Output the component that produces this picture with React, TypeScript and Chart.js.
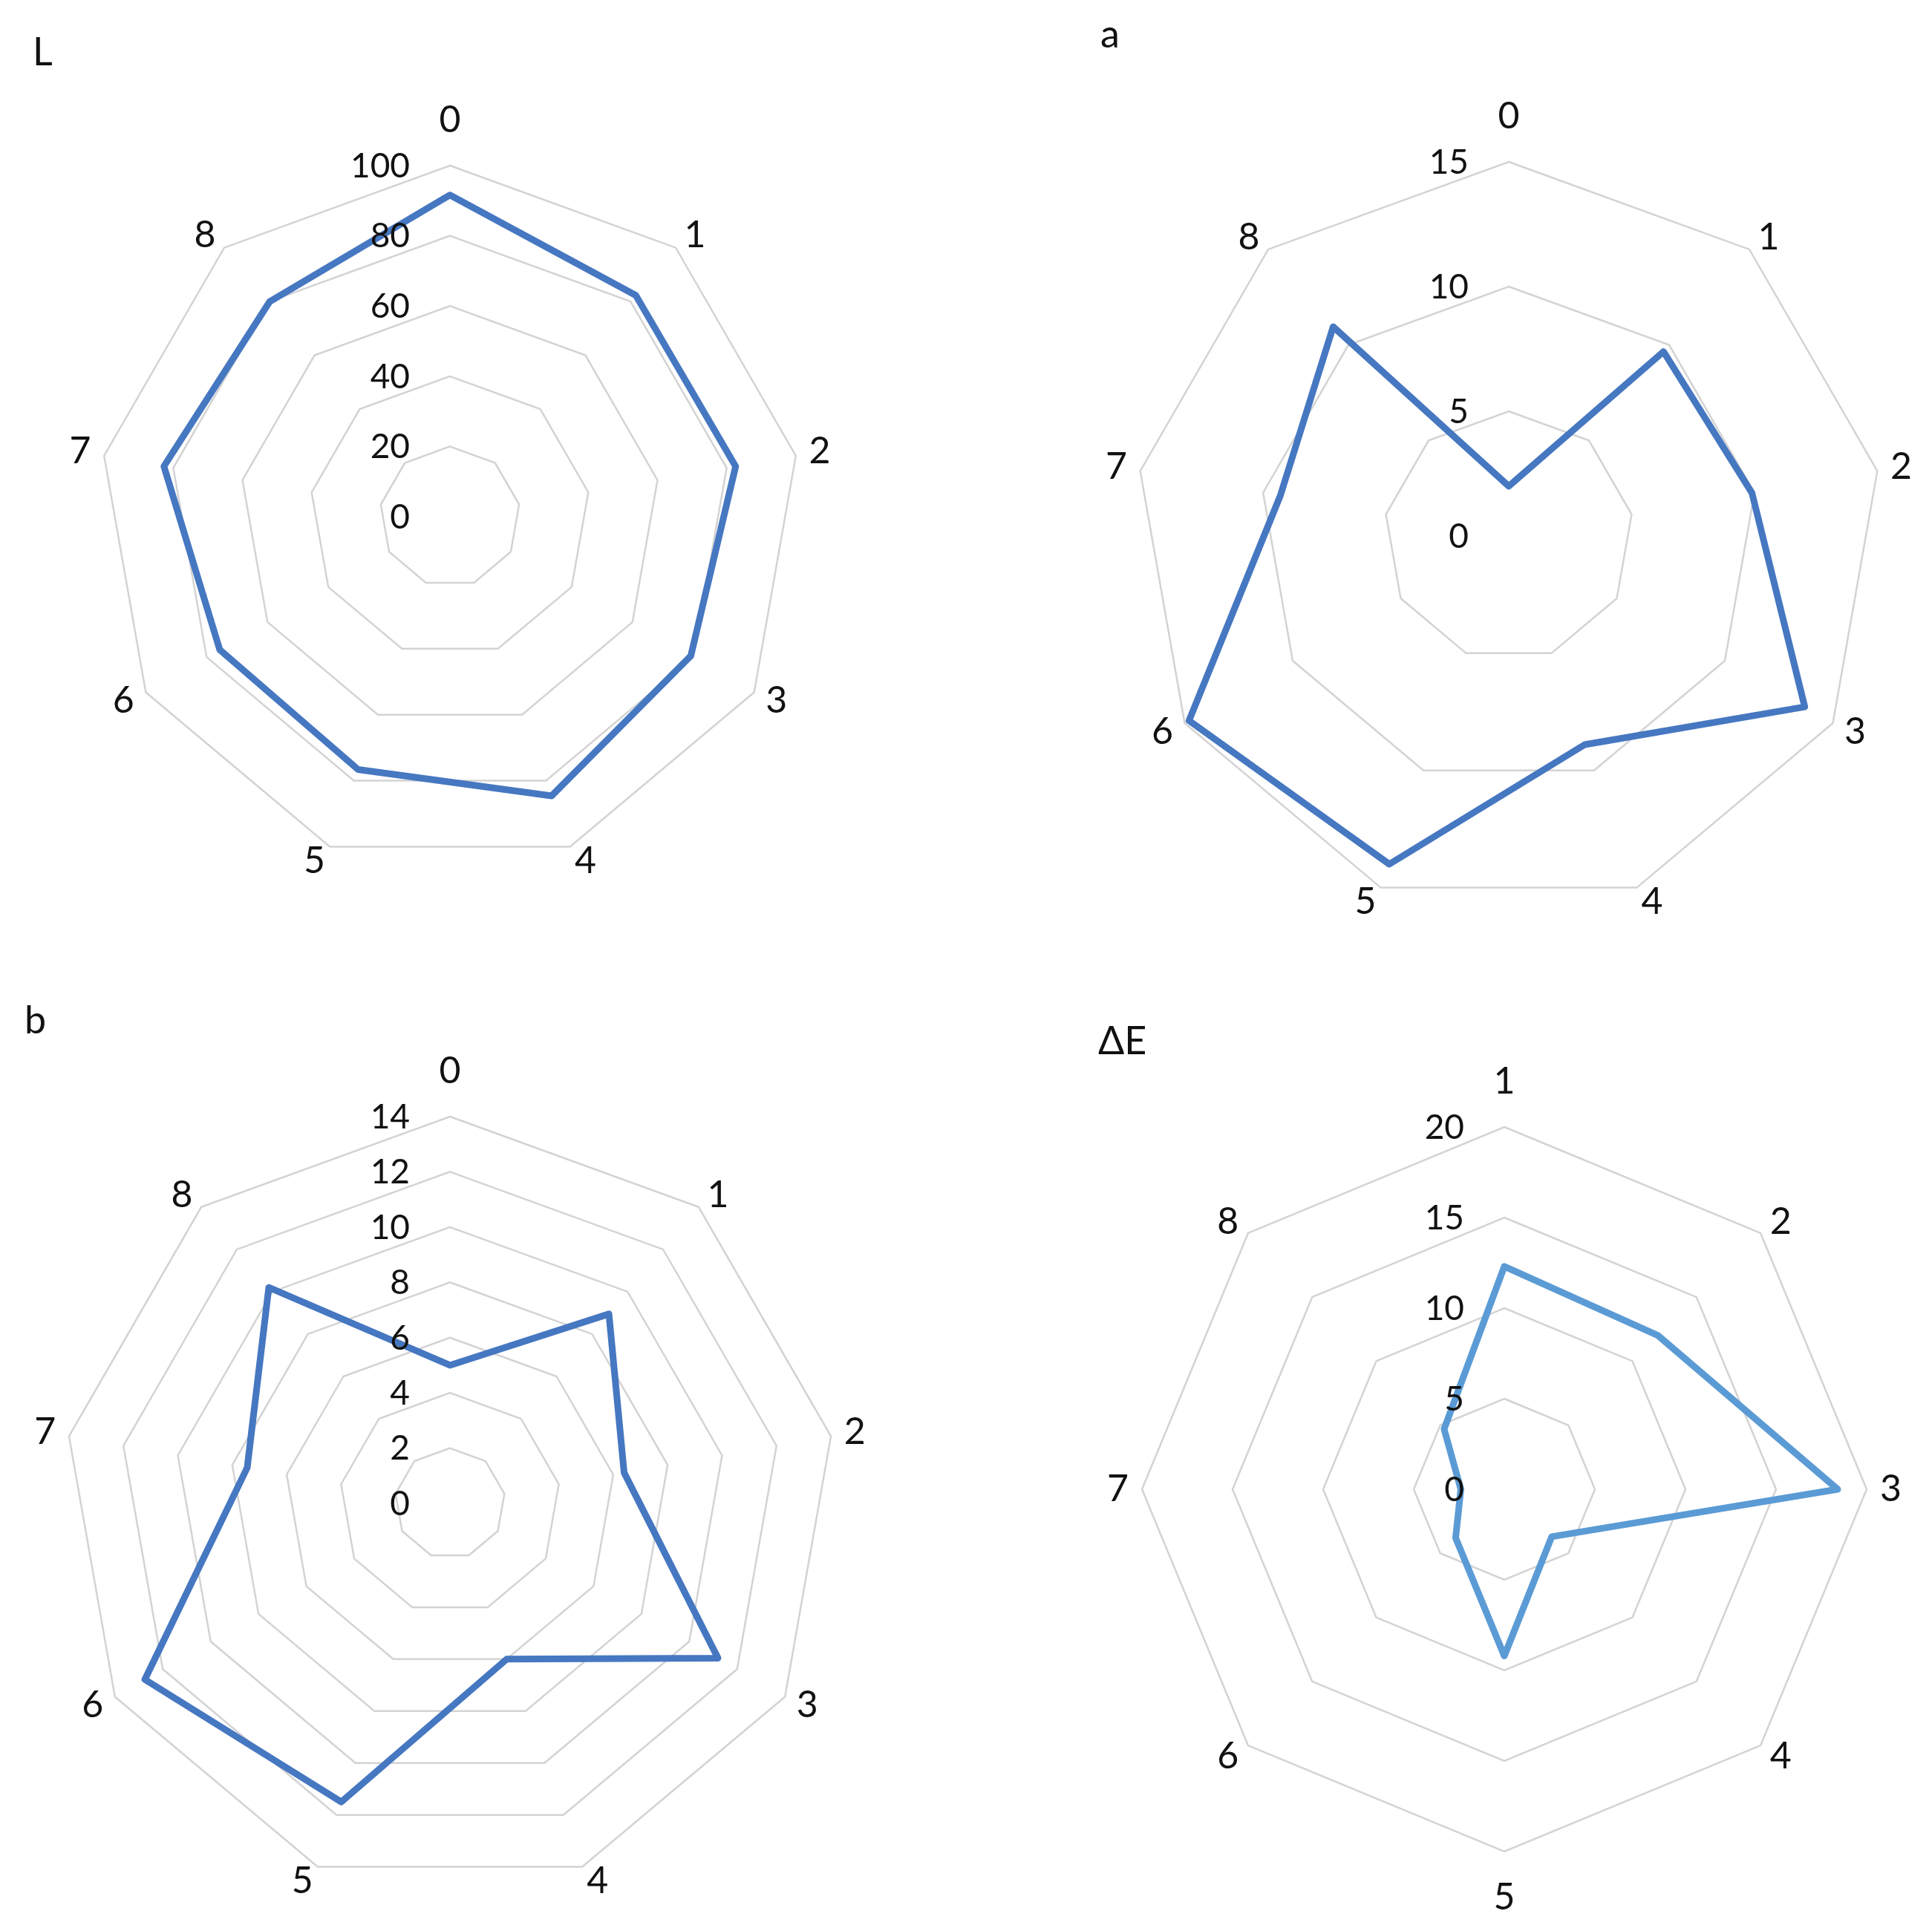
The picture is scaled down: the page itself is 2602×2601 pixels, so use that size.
import React, { useEffect, useRef } from 'react';
import { Chart, registerables } from 'chart.js';

Chart.register(...registerables);

// ---------------- data ----------------
const L_CATEGORIES = ['0', '1', '2', '3', '4', '5', '6', '7', '8'];
const L_VALUES = [91.6, 82.3, 82.6, 79.2, 84.6, 76.6, 75.7, 82.7, 79.9];
const L_MAX = 100;
const L_STEP = 20;

const A_CATEGORIES = ['0', '1', '2', '3', '4', '5', '6', '7', '8'];
const A_VALUES = [2.0, 9.65, 9.9, 13.7, 8.9, 14.0, 14.8, 9.3, 10.95];
const A_MAX = 15;
const A_STEP = 5;

const B_CATEGORIES = ['0', '1', '2', '3', '4', '5', '6', '7', '8'];
const B_VALUES = [5.0, 8.95, 6.4, 11.2, 6.0, 11.5, 12.75, 7.45, 10.2];
const B_MAX = 14;
const B_STEP = 2;

const DE_CATEGORIES = ['1', '2', '3', '4', '5', '6', '7', '8'];
const DE_VALUES = [12.3, 12.0, 18.4, 3.7, 9.2, 3.8, 2.4, 4.7];
const DE_MAX = 20;
const DE_STEP = 5;

// ---------------- styles ----------------
const FONT = 'Lato, "Open Sans", "DejaVu Sans", sans-serif';
const DARK_BLUE = '#4677C1';
const LIGHT_BLUE = '#5B9BD5';
const GRID = '#d3d3d3';
const TEXT = '#111111';

// tick labels drawn Excel-style: right aligned to the left of the vertical axis, incl. 0
const excelTickLabels = {
  id: 'excelTickLabels',
  afterDatasetsDraw(chart: any, _args: any, opts: any) {
    const scale = chart.scales.r;
    if (!scale) return;
    const ctx = chart.ctx;
    ctx.save();
    ctx.font = `${opts.size}px ${FONT}`;
    ctx.fillStyle = opts.color;
    ctx.textAlign = 'right';
    ctx.textBaseline = 'middle';
    scale.ticks.forEach((t: any) => {
      const d = scale.getDistanceFromCenterForValue(t.value);
      const label = t.label != null ? String(t.label) : String(t.value);
      ctx.fillText(label, scale.xCenter - opts.gap, scale.yCenter - d + opts.dy);
    });
    ctx.restore();
  },
};

type PanelProps = {
  title: string;
  labels: string[];
  values: number[];
  max: number;
  step: number;
  color: string;
  x: number;
  y: number;
  w: number;
  h: number;
  pad: { left: number; right: number; bottom: number };
  titlePad: { top: number; bottom: number };
  radius: number;
  yShift: number;
};

function RadarPanel(p: PanelProps) {
  const ref = useRef<HTMLCanvasElement | null>(null);
  useEffect(() => {
    if (!ref.current) return;
    const n = p.labels.length;
    const chart = new Chart(ref.current, {
      type: 'radar',
      data: {
        labels: p.labels,
        datasets: [
          {
            data: p.values,
            borderColor: p.color,
            backgroundColor: p.color,
            borderWidth: 9,
            borderJoinStyle: 'round',
            fill: false,
            pointRadius: 0,
            pointHoverRadius: 0,
            tension: 0,
          } as any,
        ],
      },
      options: {
        responsive: false,
        animation: false,
        events: [],
        layout: { padding: { left: p.pad.left, right: p.pad.right, top: 0, bottom: p.pad.bottom } },
        plugins: {
          legend: { display: false },
          tooltip: { enabled: false },
          title: {
            display: true,
            text: p.title,
            align: 'start',
            color: TEXT,
            font: { family: FONT, size: 52, weight: 'normal', lineHeight: 1.2 },
            padding: { top: p.titlePad.top, bottom: p.titlePad.bottom },
          },
          excelTickLabels: { size: 46, color: TEXT, gap: 54, dy: 1 },
        } as any,
        scales: {
          r: {
            min: 0,
            max: p.max,
            beginAtZero: true,
            ticks: { display: false, stepSize: p.step },
            grid: { color: GRID, lineWidth: 2.5, circular: false },
            angleLines: { display: false },
            pointLabels: {
              display: true,
              color: TEXT,
              font: { family: FONT, size: 50, lineHeight: 0.1 },
              padding: (ctx: any) => {
                const a = (ctx.index * 360) / n;
                return a === 0 || a === 180 ? 59 : 18;
              },
            },
            afterSetDimensions: (scale: any) => {
              scale.drawingArea = p.radius;
              scale.yCenter += p.yShift;
            },
          } as any,
        },
      },
      plugins: [excelTickLabels as any],
    });
    return () => chart.destroy();
  }, []);
  return (
    <canvas
      ref={ref}
      width={p.w}
      height={p.h}
      style={{ position: 'absolute', left: p.x, top: p.y, width: p.w, height: p.h }}
    />
  );
}

export default function App() {
  return (
    <div style={{ position: 'absolute', left: 0, top: 0, width: 2602, height: 2601, background: '#ffffff', overflow: 'hidden' }}>
      <RadarPanel
        title="L"
        labels={L_CATEGORIES}
        values={L_VALUES}
        max={L_MAX}
        step={L_STEP}
        color={DARK_BLUE}
        x={0}
        y={0}
        w={1301}
        h={1300}
        pad={{ left: 44, right: 133, bottom: 20 }}
        titlePad={{ top: 40, bottom: 10 }}
        radius={473}
        yShift={0}
      />
      <RadarPanel
        title="a"
        labels={A_CATEGORIES}
        values={A_VALUES}
        max={A_MAX}
        step={A_STEP}
        color={DARK_BLUE}
        x={1301}
        y={0}
        w={1301}
        h={1361}
        pad={{ left: 181, right: 20, bottom: 5 }}
        titlePad={{ top: 16, bottom: 10 }}
        radius={504}
        yShift={0}
      />
      <RadarPanel
        title="b"
        labels={B_CATEGORIES}
        values={B_VALUES}
        max={B_MAX}
        step={B_STEP}
        color={DARK_BLUE}
        x={0}
        y={1300}
        w={1301}
        h={1301}
        pad={{ left: 33, right: 122, bottom: 0 }}
        titlePad={{ top: 44, bottom: 10 }}
        radius={521}
        yShift={17}
      />
      <RadarPanel
        title="ΔE"
        labels={DE_CATEGORIES}
        values={DE_VALUES}
        max={DE_MAX}
        step={DE_STEP}
        color={LIGHT_BLUE}
        x={1301}
        y={1300}
        w={1301}
        h={1301}
        pad={{ left: 178, right: 29, bottom: 33 }}
        titlePad={{ top: 72, bottom: 10 }}
        radius={488}
        yShift={0}
      />
    </div>
  );
}
